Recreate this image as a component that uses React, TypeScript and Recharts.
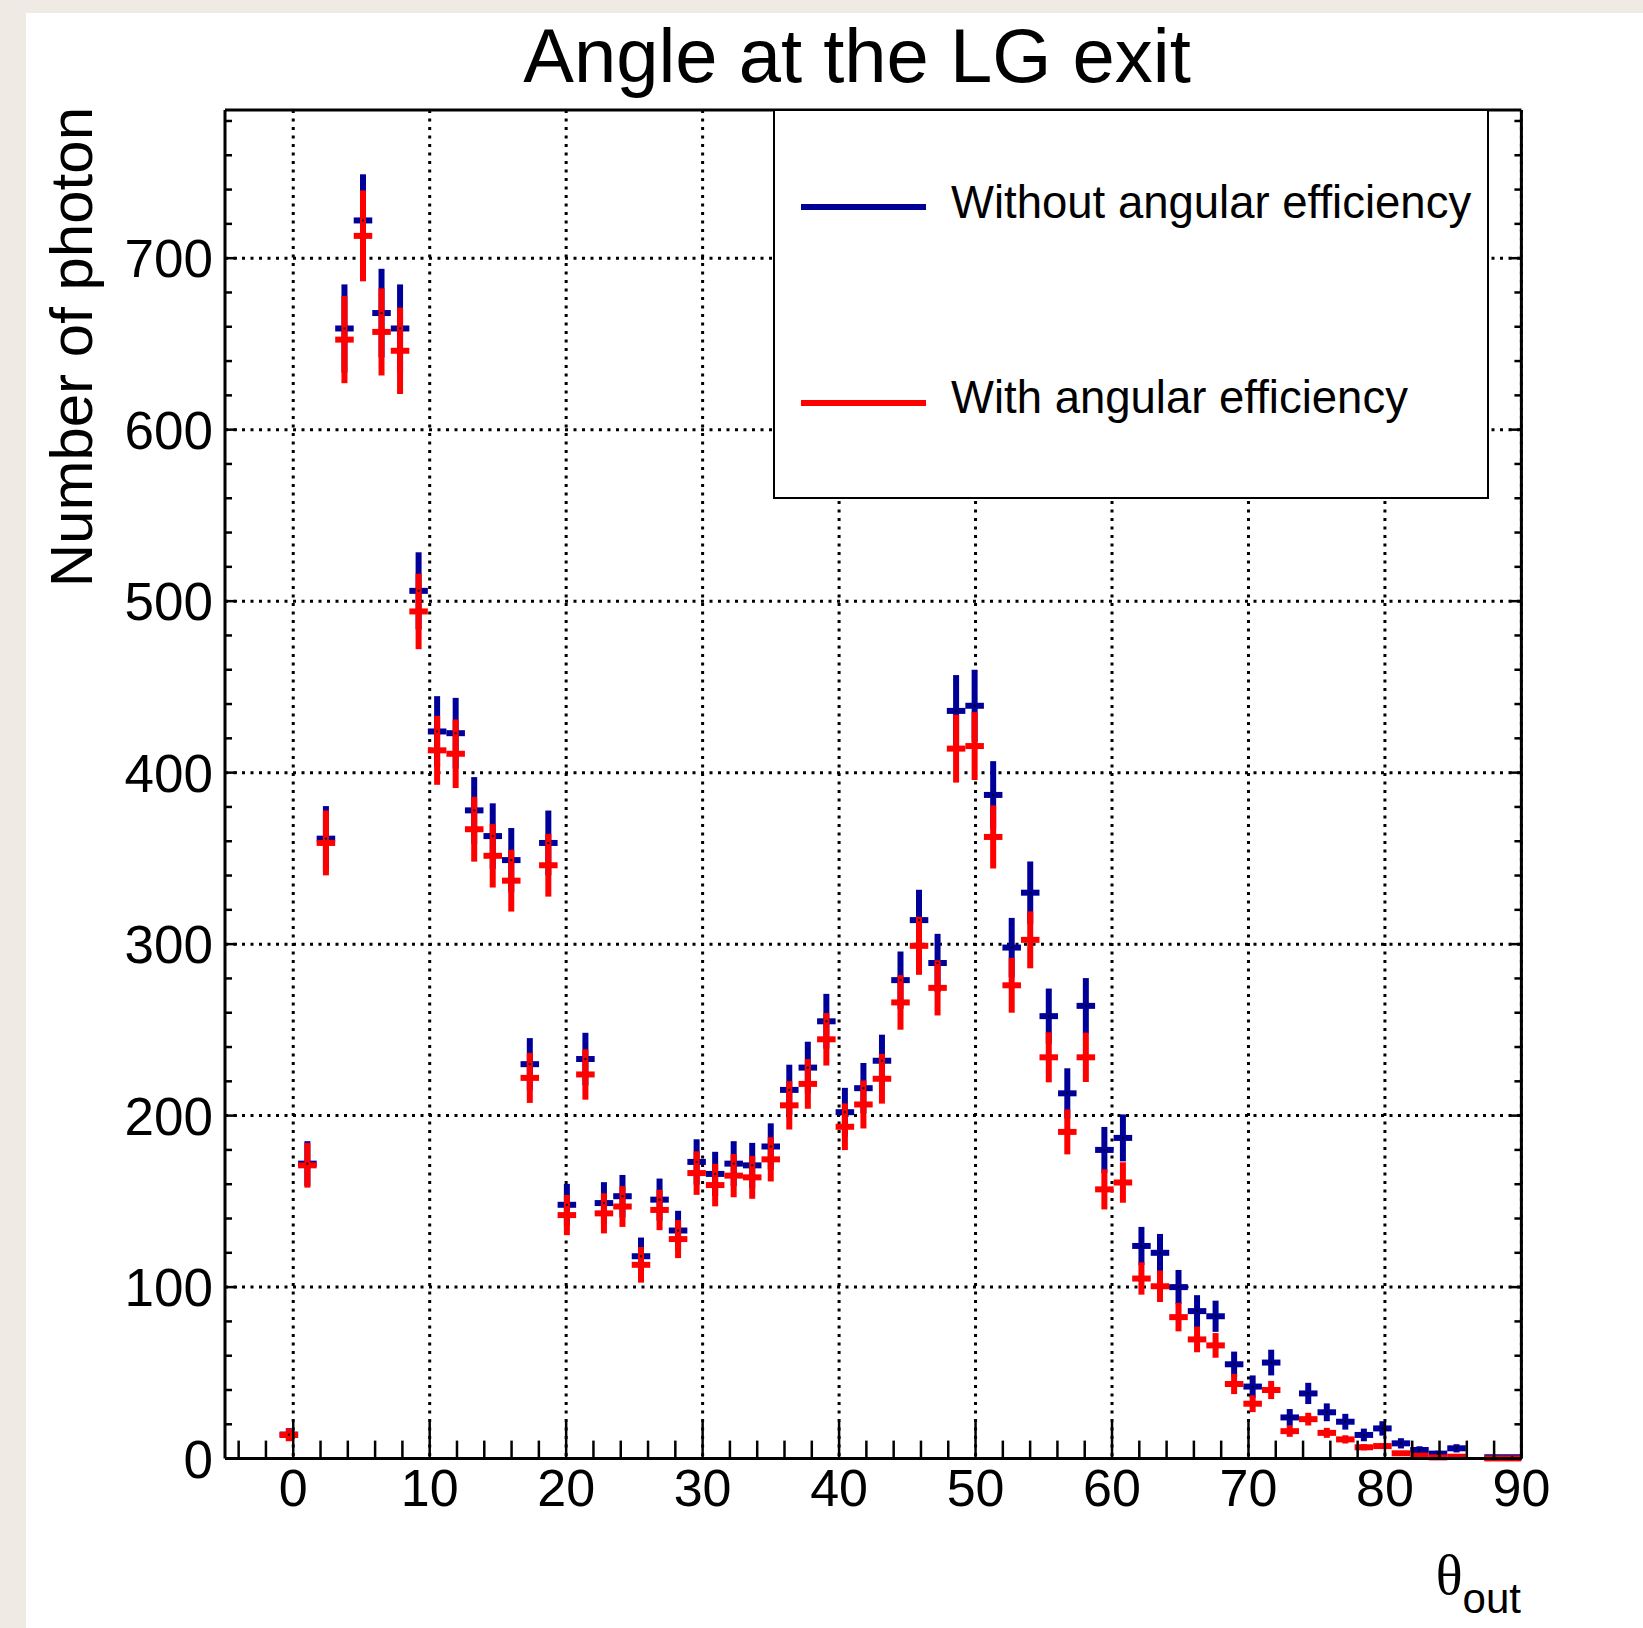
import { ComposedChart, Scatter, ErrorBar, XAxis, YAxis, CartesianGrid, Legend, Label } from 'recharts';

// histogram binning: 67 bins between -1 and 90 degrees
const binLow = -1;
const binHigh = 90;
const nBins = 67;

const withoutEff = [
  14, 172, 361.5, 659, 722, 668, 659, 506, 424, 423,
  378, 363, 349, 230, 359, 148, 233, 149, 153, 118,
  151, 133, 173, 166, 172, 171, 182, 215, 228, 255,
  202, 216, 232, 279, 314, 289, 436, 439, 387, 298,
  330, 258, 213, 264, 180, 187, 124, 120, 100, 86,
  83, 55, 42, 56, 24, 38, 27, 21.5, 13.8, 17.6,
  8.9, 5, 2.9, 6, null, 0.8, 0.8,
];
const withoutErr = [
  3.7, 13.1, 19.0, 25.7, 26.9, 25.8, 25.7, 22.5, 20.6, 20.6,
  19.4, 19.1, 18.7, 15.2, 18.9, 12.2, 15.3, 12.2, 12.4, 10.9,
  12.3, 11.5, 13.2, 12.9, 13.1, 13.1, 13.5, 14.7, 15.1, 16.0,
  14.2, 14.7, 15.2, 16.7, 17.7, 17.0, 20.9, 21.0, 19.7, 17.3,
  18.2, 16.1, 14.6, 16.2, 13.4, 13.7, 11.1, 11.0, 10.0, 9.3,
  9.1, 7.4, 6.5, 7.5, 4.9, 6.2, 5.2, 4.6, 3.7, 4.2,
  3.0, 2.2, 1.7, 2.4, null, 0.9, 0.9,
];
const withEff = [
  13.8, 171, 359, 652.5, 713, 657, 646, 494, 413, 411,
  367, 351.5, 337, 222, 346, 142, 224, 143, 147, 113,
  145, 128, 166.5, 159.5, 165, 164, 174.5, 206, 218.5, 244.5,
  193.5, 206.5, 221.5, 266, 299, 274.5, 414, 415.5, 362.5, 276,
  302.5, 234, 190.5, 234, 157, 161, 105, 100.5, 82.5, 69.5,
  66, 43.5, 32, 40, 16, 23, 15, 11.2, 6.6, 7.3,
  3.1, 1.7, 0.7, 1.1, null, 0.1, 0.1,
];
const withErr = [
  3.7, 13.0, 18.9, 25.4, 26.5, 25.4, 25.2, 22.0, 20.1, 20.0,
  18.9, 18.5, 18.0, 14.6, 18.3, 11.7, 14.7, 11.7, 11.9, 10.4,
  11.8, 11.1, 12.7, 12.4, 12.6, 12.5, 12.9, 14.1, 14.5, 15.3,
  13.6, 14.0, 14.5, 15.9, 16.9, 16.1, 19.8, 19.8, 18.4, 16.0,
  16.6, 14.6, 13.1, 14.4, 11.7, 11.8, 9.4, 9.2, 8.3, 7.5,
  7.2, 5.9, 4.9, 5.3, 3.3, 3.7, 2.9, 2.4, 1.8, 1.7,
  1.0, 0.8, 0.4, 0.4, null, 0.1, 0.1,
];

const xTicks = [
  -4, -2, 0, 2, 4, 6, 8, 10, 12, 14, 16, 18, 20, 22, 24, 26, 28, 30, 32, 34, 36, 38, 40,
  42, 44, 46, 48, 50, 52, 54, 56, 58, 60, 62, 64, 66, 68, 70, 72, 74, 76, 78, 80, 82, 84, 86, 88, 90,
];
const yTicks = [
  0, 20, 40, 60, 80, 100, 120, 140, 160, 180, 200, 220, 240, 260, 280, 300, 320, 340, 360, 380,
  400, 420, 440, 460, 480, 500, 520, 540, 560, 580, 600, 620, 640, 660, 680, 700, 720, 740, 760, 780,
];
const xGrid = [0, 10, 20, 30, 40, 50, 60, 70, 80, 90];
const yGrid = [100, 200, 300, 400, 500, 600, 700];
const legendOrder = ['Without angular efficiency', 'With angular efficiency'];

const BLUE = '#000099';
const RED = '#ff0000';
const FONT = '"Liberation Sans", Arial, Helvetica, sans-serif';

const binWidth = (binHigh - binLow) / nBins;

function toPoints(values: (number | null)[], errors: (number | null)[]) {
  const pts: { x: number; y: number; ey: number; ex: number }[] = [];
  values.forEach((v, i) => {
    if (v == null) return;
    pts.push({ x: binLow + (i + 0.5) * binWidth, y: v, ey: errors[i] as number, ex: binWidth / 2 });
  });
  return pts;
}

const blueData = toPoints(withoutEff, withoutErr);
const redData = toPoints(withEff, withErr);

const isMajor = (v: number, step: number) => Math.abs(v % step) < 1e-6;

function BottomTick({ x, y, payload }: any) {
  const major = isMajor(payload.value, 10);
  return (
    <g>
      <line x1={x} x2={x} y1={y} y2={y - (major ? 37 : 18)} stroke="#000" strokeWidth={2.5} />
      {major && (
        <text x={x} y={y + 47} textAnchor="middle" fontSize={52} fontFamily={FONT} fill="#000">
          {payload.value}
        </text>
      )}
    </g>
  );
}

function TopTick({ x, y, payload }: any) {
  const major = isMajor(payload.value, 10);
  return <line x1={x} x2={x} y1={y} y2={y + (major ? 27 : 17)} stroke="#000" strokeWidth={2.5} />;
}

function LeftTick({ x, y, payload }: any) {
  const major = isMajor(payload.value, 100);
  return (
    <g>
      <line x1={x} x2={x + (major ? 12 : 7)} y1={y} y2={y} stroke="#000" strokeWidth={2.5} />
      {major && (
        <text x={x - 12} y={y + 19} textAnchor="end" fontSize={53} fontFamily={FONT} fill="#000">
          {payload.value}
        </text>
      )}
    </g>
  );
}

function RightTick({ x, y, payload }: any) {
  const major = isMajor(payload.value, 100);
  return <line x1={x} x2={x - (major ? 12 : 7)} y1={y} y2={y} stroke="#000" strokeWidth={2.5} />;
}

function BlueDot({ cx, cy }: any) {
  return <rect x={cx - 1} y={cy - 1} width={2} height={2} fill="#000" />;
}

function NoDot() {
  return <g />;
}

function LegendBox({ payload }: any) {
  const items = legendOrder
    .map((name) => (payload || []).find((e: any) => e.value === name))
    .filter(Boolean);
  return (
    <svg width={716} height={391} style={{ display: 'block' }}>
      <rect x={1} y={1} width={714} height={388} fill="#fff" stroke="#000" strokeWidth={2} />
      {items.map((entry: any, i: number) => (
        <g key={entry.value}>
          <line x1={28} x2={153} y1={98 + i * 196} y2={98 + i * 196} stroke={entry.color} strokeWidth={6} />
          <text x={178} y={109 + i * 195} fontSize={45.5} fontFamily={FONT} fill="#000">
            {entry.value}
          </text>
        </g>
      ))}
    </svg>
  );
}

export default function App() {
  return (
    <div style={{ position: 'absolute', left: 0, top: 0, width: 1643, height: 1628, background: '#efebe4' }}>
      <div style={{ position: 'absolute', left: 26, top: 13, width: 1617, height: 1615, background: '#fff' }} />
      <div style={{ position: 'absolute', left: 0, top: 0 }}>
        <ComposedChart width={1643} height={1628} margin={{ top: 80, right: 91.6, bottom: 109.4, left: 125 }}>
          <CartesianGrid
            verticalValues={xGrid}
            horizontalValues={yGrid}
            stroke="#000"
            strokeWidth={3}
            strokeDasharray="3 5.5"
          />
          <XAxis
            dataKey="x"
            type="number"
            domain={[-5, 90]}
            allowDataOverflow
            ticks={xTicks}
            interval={0}
            height={60}
            tickSize={0}
            tickMargin={0}
            tick={BottomTick}
            tickLine={false}
            axisLine={{ stroke: '#000', strokeWidth: 3 }}
          >
            <Label
              content={() => (
                <text x={1521} y={1594} textAnchor="end" fill="#000">
                  <tspan fontFamily='"Liberation Serif", "DejaVu Serif", serif' fontSize={56}>θ</tspan>
                  <tspan fontFamily={FONT} fontSize={42} dy={19}>out</tspan>
                </text>
              )}
            />
          </XAxis>
          <XAxis
            xAxisId="top"
            orientation="top"
            type="number"
            domain={[-5, 90]}
            allowDataOverflow
            ticks={xTicks}
            interval={0}
            height={30}
            tickSize={0}
            tickMargin={0}
            tick={TopTick}
            tickLine={false}
            axisLine={{ stroke: '#000', strokeWidth: 3 }}
          >
            <Label
              content={() => (
                <text x={857} y={82} textAnchor="middle" fontSize={76} fontFamily={FONT} fill="#000">
                  Angle at the LG exit
                </text>
              )}
            />
          </XAxis>
          <YAxis
            dataKey="y"
            type="number"
            domain={[0, 786.4]}
            allowDataOverflow
            ticks={yTicks}
            interval={0}
            width={100}
            tickSize={0}
            tickMargin={0}
            tick={LeftTick}
            tickLine={false}
            axisLine={{ stroke: '#000', strokeWidth: 3 }}
          >
            <Label
              content={() => (
                <text
                  x={0}
                  y={0}
                  transform="translate(92,107) rotate(-90)"
                  textAnchor="end"
                  fontSize={60}
                  fontFamily={FONT}
                  fill="#000"
                >
                  Number of photon
                </text>
              )}
            />
          </YAxis>
          <YAxis
            yAxisId="right"
            orientation="right"
            type="number"
            domain={[0, 786.4]}
            allowDataOverflow
            ticks={yTicks}
            interval={0}
            width={30}
            tickSize={0}
            tickMargin={0}
            tick={RightTick}
            tickLine={false}
            axisLine={{ stroke: '#000', strokeWidth: 3 }}
          />
          <Scatter
            name="Without angular efficiency"
            data={blueData}
            dataKey="y"
            fill={BLUE}
            shape={BlueDot}
            isAnimationActive={false}
          >
            <ErrorBar dataKey="ey" direction="y" width={0} stroke={BLUE} strokeWidth={6} isAnimationActive={false} />
            <ErrorBar dataKey="ex" direction="x" width={0} stroke={BLUE} strokeWidth={6} isAnimationActive={false} />
          </Scatter>
          <Scatter
            name="With angular efficiency"
            data={redData}
            dataKey="y"
            fill={RED}
            shape={NoDot}
            isAnimationActive={false}
          >
            <ErrorBar dataKey="ey" direction="y" width={0} stroke={RED} strokeWidth={6} isAnimationActive={false} />
            <ErrorBar dataKey="ex" direction="x" width={0} stroke={RED} strokeWidth={6} isAnimationActive={false} />
          </Scatter>
          <Legend
            layout="vertical"
            align="center"
            verticalAlign="middle"
            wrapperStyle={{ position: 'absolute', left: 773, top: 109, width: 716, height: 391 }}
            content={LegendBox}
          />
        </ComposedChart>
      </div>
    </div>
  );
}
